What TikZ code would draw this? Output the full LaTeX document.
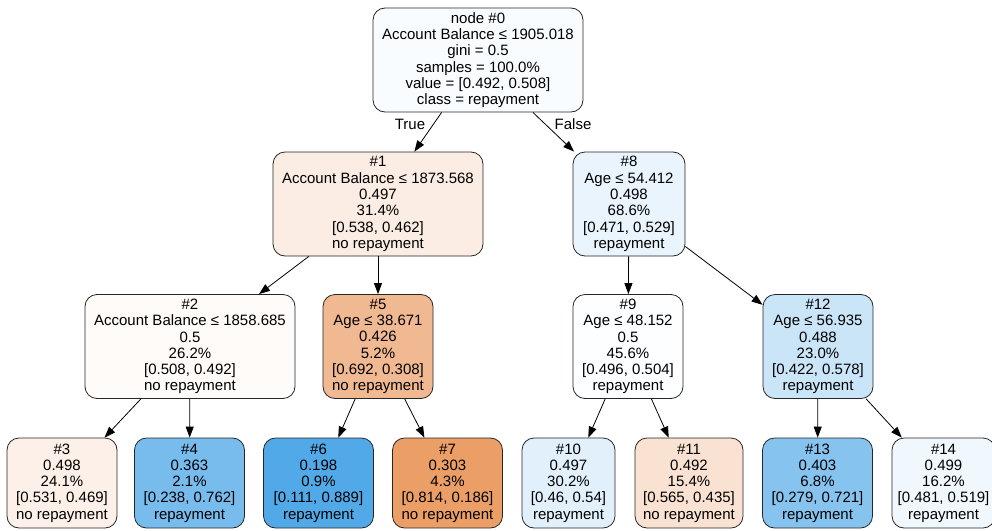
\documentclass[tikz,border=0pt]{standalone}
\usepackage{fontspec}
\setmainfont{Liberation Sans}
\usetikzlibrary{arrows.meta}
% node fills: blend of class colour and white by node purity
\definecolor{c0}{RGB}{249,252,254}
\definecolor{c1}{RGB}{251,237,227}
\definecolor{c2}{RGB}{254,251,248}
\definecolor{c3}{RGB}{252,240,232}
\definecolor{c4}{RGB}{119,188,237}
\definecolor{c5}{RGB}{241,185,145}
\definecolor{c6}{RGB}{82,169,232}
\definecolor{c7}{RGB}{235,158,102}
\definecolor{c8}{RGB}{233,244,252}
\definecolor{c9}{RGB}{252,254,255}
\definecolor{c10}{RGB}{226,240,251}
\definecolor{c11}{RGB}{249,226,209}
\definecolor{c12}{RGB}{202,229,248}
\definecolor{c13}{RGB}{134,195,239}
\definecolor{c14}{RGB}{241,248,253}
\begin{document}
\begin{tikzpicture}[x=1pt,y=-1pt,
  treenode/.style={draw=black!85, line width=0.8pt, rounded corners=12pt,
    align=center, inner sep=0pt, font=\fontsize{15}{16.3}\selectfont,
    minimum width=110pt, minimum height=90pt},
  tall/.style={minimum height=104pt},
  wide/.style={minimum width=210pt},
  edge/.style={draw=black, line width=0.8pt, -{Triangle[length=11pt,width=8pt]}},
  elabel/.style={font=\fontsize{15}{16}\selectfont, inner sep=0pt}]
\useasboundingbox (0,0) rectangle (992,530);
\clip (0,0) rectangle (992,530);

% root
\node[treenode,tall,wide,fill=c0] (n0) at (478,60)
  {node \#0\\Account Balance ≤ 1905.018\\gini = 0.5\\samples = 100.0\%\\value = {[}0.492, 0.508{]}\\class = repayment};

% depth 1
\node[treenode,tall,wide,fill=c1] (n1) at (378,204)
  {\#1\\Account Balance ≤ 1873.568\\0.497\\31.4\%\\{[}0.538, 0.462{]}\\no repayment};
\node[treenode,tall,minimum width=112pt,fill=c8] (n8) at (629,204)
  {\#8\\Age ≤ 54.412\\0.498\\68.6\%\\{[}0.471, 0.529{]}\\repayment};

% depth 2
\node[treenode,tall,wide,fill=c2] (n2) at (190,346.5)
  {\#2\\Account Balance ≤ 1858.685\\0.5\\26.2\%\\{[}0.508, 0.492{]}\\no repayment};
\node[treenode,tall,fill=c5] (n5) at (378,346.5)
  {\#5\\Age ≤ 38.671\\0.426\\5.2\%\\{[}0.692, 0.308{]}\\no repayment};
\node[treenode,tall,fill=c9] (n9) at (628,346.5)
  {\#9\\Age ≤ 48.152\\0.5\\45.6\%\\{[}0.496, 0.504{]}\\repayment};
\node[treenode,tall,fill=c12] (n12) at (818,346.5)
  {\#12\\Age ≤ 56.935\\0.488\\23.0\%\\{[}0.422, 0.578{]}\\repayment};

% leaves
\node[treenode,fill=c3] (n3) at (62,483)
  {\#3\\0.498\\24.1\%\\{[}0.531, 0.469{]}\\no repayment};
\node[treenode,fill=c4] (n4) at (189.5,483)
  {\#4\\0.363\\2.1\%\\{[}0.238, 0.762{]}\\repayment};
\node[treenode,fill=c6] (n6) at (318.5,483)
  {\#6\\0.198\\0.9\%\\{[}0.111, 0.889{]}\\repayment};
\node[treenode,fill=c7] (n7) at (447.5,483)
  {\#7\\0.303\\4.3\%\\{[}0.814, 0.186{]}\\no repayment};
\node[treenode,minimum width=93pt,fill=c10] (n10) at (568.5,483)
  {\#10\\0.497\\30.2\%\\{[}0.46, 0.54{]}\\repayment};
\node[treenode,minimum width=108pt,fill=c11] (n11) at (689,483)
  {\#11\\0.492\\15.4\%\\{[}0.565, 0.435{]}\\no repayment};
\node[treenode,fill=c13] (n13) at (817.5,483)
  {\#13\\0.403\\6.8\%\\{[}0.279, 0.721{]}\\repayment};
\node[treenode,minimum width=103pt,fill=c14] (n14) at (943.5,483)
  {\#14\\0.499\\16.2\%\\{[}0.481, 0.519{]}\\repayment};

% connectors
\draw[edge] (n0) -- (n1);
\draw[edge] (n0) -- (n8);
\draw[edge] (n1) -- (n2);
\draw[edge] (n1) -- (n5);
\draw[edge] (n8) -- (n9);
\draw[edge] (n8) -- (n12);
\draw[edge] (n2) -- (n3);
\draw[edge] (n2) -- (n4);
\draw[edge] (n5) -- (n6);
\draw[edge] (n5) -- (n7);
\draw[edge] (n9) -- (n10);
\draw[edge] (n9) -- (n11);
\draw[edge] (n12) -- (n13);
\draw[edge] (n12) -- (n14);

% branch labels
\node[elabel] (ltrue) at (410,124) {True};
\node[elabel] (lfalse) at (573,124) {False};
\end{tikzpicture}
\end{document}
